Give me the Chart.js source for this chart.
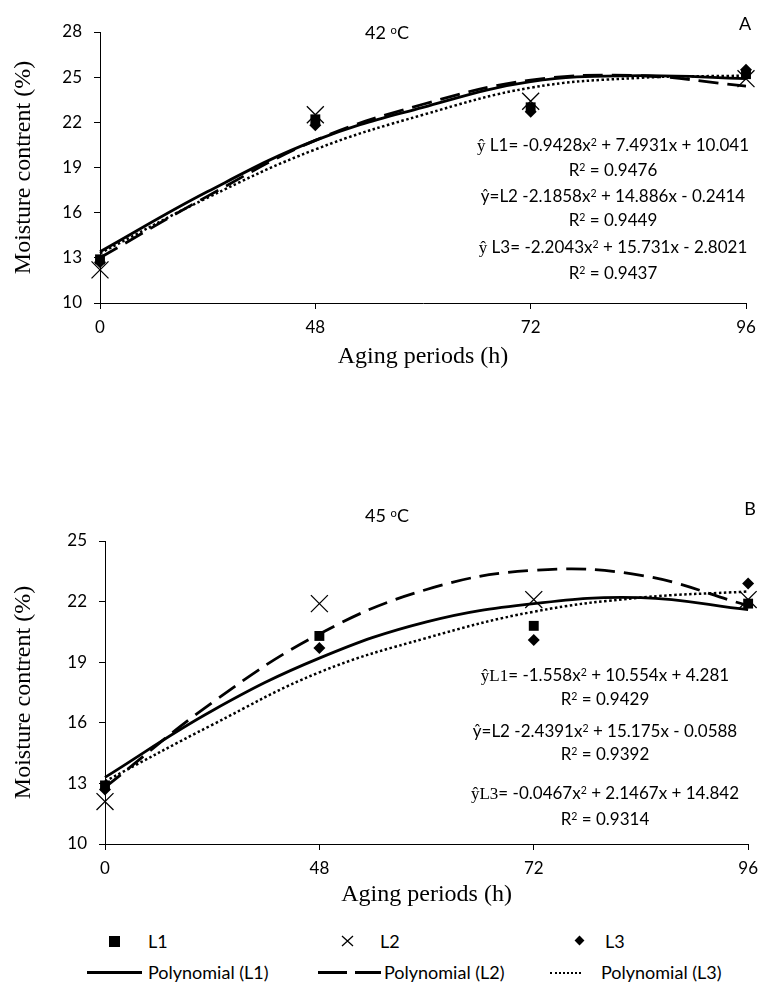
<!DOCTYPE html>
<html>
<head>
<meta charset="utf-8">
<script src="https://cdn.jsdelivr.net/npm/chart.js@4.4.1/dist/chart.umd.min.js"></script>
<style>
  body { margin: 0; background: #fff; width: 766px; height: 982px; position: relative; overflow: hidden;
         font-family: Lato, "Open Sans", sans-serif; color: #000; }
  canvas { position: absolute; left: 0; }
  .note { position: absolute; white-space: nowrap; transform: translate(-50%, -50%); font-size: 17px; line-height: 1; }
  .title { font-size: 18px; }
  .serif { font-family: "Liberation Serif", serif; }
  sup { font-size: 0.62em; vertical-align: 0.45em; line-height: 0; }
  .leg { position: absolute; font-size: 18px; line-height: 1; transform: translateY(-50%); white-space: nowrap; }
  .mk { position: absolute; }
</style>
</head>
<body>
<canvas id="chartA" width="766" height="420" style="top:0"></canvas>
<canvas id="chartB" width="766" height="450" style="top:470px"></canvas>

<div class="note title" style="left:387px;top:32px">42 <sup>o</sup>C</div>
<div class="note title" style="left:745px;top:23px">A</div>
<div class="note" style="left:613px;top:145px"><span class="serif">ŷ</span> L1= -0.9428x<sup>2</sup> + 7.4931x + 10.041</div>
<div class="note" style="left:613px;top:169px">R<sup>2</sup> = 0.9476</div>
<div class="note" style="left:613px;top:195px">ŷ=L2 -2.1858x<sup>2</sup> + 14.886x - 0.2414</div>
<div class="note" style="left:613px;top:219px">R<sup>2</sup> = 0.9449</div>
<div class="note" style="left:613px;top:247px"><span class="serif">ŷ</span> L3= -2.2043x<sup>2</sup> + 15.731x - 2.8021</div>
<div class="note" style="left:613px;top:272px">R<sup>2</sup> = 0.9437</div>

<div class="note title" style="left:387px;top:515px">45 <sup>o</sup>C</div>
<div class="note title" style="left:750px;top:508px">B</div>
<div class="note" style="left:605px;top:675px"><span class="serif">ŷL1</span>= -1.558x<sup>2</sup> + 10.554x + 4.281</div>
<div class="note" style="left:605px;top:698px">R<sup>2</sup> = 0.9429</div>
<div class="note" style="left:605px;top:730px">ŷ=L2 -2.4391x<sup>2</sup> + 15.175x - 0.0588</div>
<div class="note" style="left:605px;top:753px">R<sup>2</sup> = 0.9392</div>
<div class="note" style="left:605px;top:793px"><span class="serif">ŷL3</span>= -0.0467x<sup>2</sup> + 2.1467x + 14.842</div>
<div class="note" style="left:605px;top:818px">R<sup>2</sup> = 0.9314</div>

<!-- legend -->
<div class="mk" style="left:109px;top:936px;width:11px;height:11px;background:#000"></div>
<div class="leg" style="left:148px;top:941px">L1</div>
<svg class="mk" style="left:341px;top:935px" width="13" height="12"><path d="M1 1L12 11M12 1L1 11" stroke="#000" stroke-width="1.3"/></svg>
<div class="leg" style="left:380px;top:941px">L2</div>
<div class="mk" style="left:576px;top:937px;width:7px;height:7px;background:#000;transform:rotate(45deg)"></div>
<div class="leg" style="left:605px;top:941px">L3</div>
<div class="mk" style="left:87px;top:971px;width:55px;border-top:3px solid #000"></div>
<div class="leg" style="left:148px;top:972px">Polynomial (L1)</div>
<div class="mk" style="left:318px;top:971px;width:29px;border-top:3px solid #000"></div>
<div class="mk" style="left:355px;top:971px;width:26px;border-top:3px solid #000"></div>
<div class="leg" style="left:384px;top:972px">Polynomial (L2)</div>
<div class="mk" style="left:550px;top:972px;width:31px;border-top:2px dotted #000"></div>
<div class="leg" style="left:601px;top:972px">Polynomial (L3)</div>

<script>
const hours = ['0', '48', '72', '96'];
const pointIdx = [0, 1, 2, 3];
const curveIdx = [0, 0.5, 1, 1.5, 2, 2.5, 3];

// 42 oC
const aL1 = [12.9, 22.2, 23.0, 25.2];
const aL2 = [12.2, 22.5, 23.4, 24.9];
const aL3 = [12.7, 21.8, 22.7, 25.5];
const aFitL1 = [13.4, 17.4, 20.8, 23.0, 24.7, 25.1, 24.9];
const aFitL2 = [13.0, 17.1, 20.8, 23.2, 24.8, 25.1, 24.4];
const aFitL3 = [13.3, 17.0, 20.2, 22.5, 24.3, 24.95, 25.1];

// 45 oC
const bL1 = [12.9, 20.3, 20.8, 21.9];
const bL2 = [12.1, 21.9, 22.1, 22.1];
const bL3 = [12.7, 19.7, 20.1, 22.9];
const bFitL1 = [13.3, 16.6, 19.2, 21.0, 21.9, 22.2, 21.6];
const bFitL2 = [12.8, 17.0, 20.4, 22.6, 23.55, 23.3, 21.8];
const bFitL3 = [13.1, 15.9, 18.5, 20.2, 21.5, 22.2, 22.5];

Chart.defaults.font.family = 'Lato';
Chart.defaults.color = '#000';

const toXY = (xs, ys) => xs.map((x, i) => ({ x: x, y: ys[i] }));

function markers(label, ys, style, radius) {
  return {
    label: label,
    data: toXY(pointIdx, ys),
    showLine: false,
    pointStyle: style,
    pointRadius: radius,
    pointBackgroundColor: '#000',
    pointBorderColor: '#000',
    pointBorderWidth: style === 'crossRot' ? 1.3 : 0,
    clip: false,
  };
}

function trend(label, ys, dash, width) {
  return {
    label: label,
    data: toXY(curveIdx, ys),
    borderColor: '#000',
    borderWidth: width,
    borderDash: dash,
    pointRadius: 0,
    tension: 0.4,
    fill: false,
    clip: false,
  };
}

function makeChart(id, p, yMax, pad, yWidth, xHeight, xTitlePad) {
  new Chart(document.getElementById(id), {
    type: 'line',
    data: {
      datasets: [
        markers('L1', p.l1, 'rect', 7),
        markers('L2', p.l2, 'crossRot', 12),
        markers('L3', p.l3, 'rectRot', 6),
        trend('Polynomial (L1)', p.f1, [], 2.8),
        trend('Polynomial (L2)', p.f2, [20, 9], 2.8),
        trend('Polynomial (L3)', p.f3, [2.5, 2.5], 2.5),
      ],
    },
    options: {
      responsive: false,
      animation: false,
      events: [],
      layout: { padding: pad },
      plugins: { legend: { display: false }, tooltip: { enabled: false } },
      scales: {
        x: {
          type: 'linear',
          min: 0,
          max: 3,
          afterFit: s => { s.height = xHeight; },
          ticks: {
            stepSize: 1,
            padding: 8,
            font: { size: 17 },
            callback: v => hours[v] ?? '',
          },
          grid: { drawOnChartArea: false, color: '#000', tickLength: 6 },
          border: { color: '#000', width: 1 },
          title: {
            display: true,
            text: 'Aging periods (h)',
            font: { family: 'Liberation Serif', size: 24 },
            padding: { top: 0, bottom: xTitlePad },
          },
        },
        y: {
          min: 10,
          max: yMax,
          afterFit: s => { s.width = yWidth; },
          ticks: { stepSize: 3, padding: 12, font: { size: 17 } },
          grid: { drawOnChartArea: false, color: '#000', tickLength: 6 },
          border: { color: '#000', width: 1 },
          title: {
            display: true,
            text: 'Moisture contrent (%)',
            font: { family: 'Liberation Serif', size: 24 },
            padding: { top: 9, bottom: 0 },
          },
        },
      },
    },
  });
}

makeChart('chartA', { l1: aL1, l2: aL2, l3: aL3, f1: aFitL1, f2: aFitL2, f3: aFitL3 },
  28, { left: 0, right: 20, top: 32, bottom: 0 }, 100, 117, 49);
makeChart('chartB', { l1: bL1, l2: bL2, l3: bL3, f1: bFitL1, f2: bFitL2, f3: bFitL3 },
  25, { left: 0, right: 11, top: 71, bottom: 0 }, 105, 76, 11);
</script>
</body>
</html>
